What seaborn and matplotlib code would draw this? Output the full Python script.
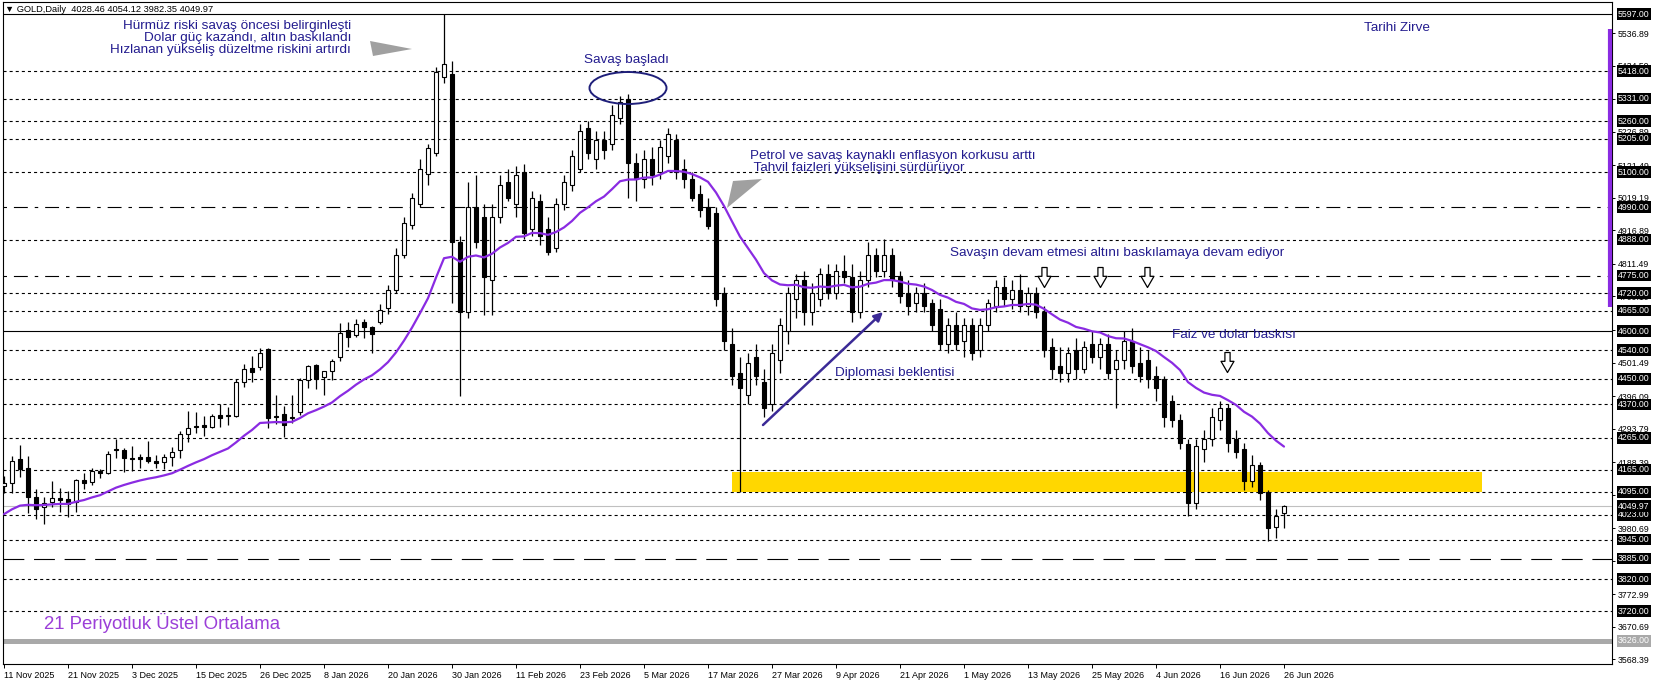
import matplotlib
matplotlib.use("Agg")
import matplotlib.pyplot as plt
import matplotlib.transforms as mtransforms
from matplotlib.patches import Ellipse, Polygon, Rectangle
from matplotlib.path import Path
import numpy as np
import pandas as pd
import seaborn as sns

# Daily candles, 11 Nov 2025 .. 26 Jun 2026
opens = [4113, 4123, 4198, 4170, 4079, 4047, 4063, 4076, 4073, 4063,
         4132, 4126, 4160, 4154, 4230, 4227, 4201, 4205, 4205, 4192,
         4189, 4205, 4226, 4277, 4302, 4305, 4299, 4337, 4333, 4333,
         4440, 4484, 4487, 4544, 4333, 4340, 4327, 4346, 4447, 4494,
         4456, 4475, 4519, 4604, 4588, 4629, 4613, 4629, 4673, 4730,
         4840, 4935, 5000, 5095, 5160, 5400, 5410, 4880, 4660, 4990,
         4960, 4760, 4960, 5070, 5000, 5100, 4920, 5010, 4920, 4860,
         5000, 5060, 5110, 5240, 5140, 5200, 5190, 5270, 5330, 5130,
         5080, 5140, 5100, 5150, 5200, 5110, 5080, 5030, 4990, 4970,
         4720, 4560, 4470, 4400, 4520, 4440, 4370, 4510, 4600, 4700,
         4760, 4660, 4700, 4780, 4720, 4790, 4770, 4660, 4760, 4840,
         4790, 4840, 4770, 4720, 4690, 4720, 4690, 4670, 4560, 4620,
         4570, 4620, 4540, 4620, 4680, 4740, 4700, 4730, 4680, 4720,
         4660, 4550, 4490, 4470, 4540, 4480, 4560, 4520, 4560, 4480,
         4510, 4570, 4500, 4510, 4460, 4450, 4380, 4320, 4245, 4060,
         4230, 4260, 4320, 4360, 4260, 4230, 4130, 4180, 4095, 3985,
         4028.46]
highs = [4145, 4208, 4242, 4208, 4104, 4079, 4129, 4107, 4098, 4135,
         4154, 4170, 4167, 4223, 4261, 4233, 4239, 4214, 4255, 4211,
         4214, 4236, 4286, 4349, 4346, 4333, 4340, 4371, 4362, 4450,
         4497, 4522, 4547, 4546, 4400, 4365, 4400, 4453, 4494, 4497,
         4475, 4513, 4626, 4629, 4638, 4638, 4616, 4685, 4745, 4860,
         4960, 5035, 5140, 5190, 5430, 5597, 5450, 4900, 5070, 5090,
         5000, 5000, 5090, 5110, 5120, 5125, 5040, 5030, 4960, 5020,
         5090, 5170, 5250, 5260, 5230, 5230, 5310, 5340, 5345, 5160,
         5170, 5180, 5200, 5240, 5220, 5140, 5100, 5060, 5020, 4990,
         4740, 4610, 4520, 4530, 4560, 4480, 4560, 4640, 4740, 4780,
         4790, 4750, 4800, 4810, 4810, 4840, 4810, 4790, 4880, 4860,
         4890, 4860, 4790, 4760, 4740, 4750, 4700, 4700, 4640, 4660,
         4640, 4640, 4640, 4700, 4760, 4770, 4760, 4780, 4740, 4740,
         4680, 4580, 4550, 4550, 4580, 4570, 4600, 4580, 4590, 4540,
         4600, 4610, 4550, 4540, 4490, 4460, 4400, 4340, 4260, 4260,
         4290, 4360, 4380, 4370, 4290, 4250, 4210, 4190, 4100, 4040,
         4054.12]
lows = [4092, 4092, 4142, 4028, 4009, 3994, 4047, 4031, 4016, 4031,
        4104, 4116, 4139, 4151, 4201, 4158, 4161, 4170, 4186, 4170,
        4167, 4177, 4201, 4252, 4280, 4271, 4296, 4299, 4305, 4330,
        4425, 4440, 4478, 4296, 4308, 4267, 4311, 4337, 4421, 4418,
        4400, 4447, 4506, 4550, 4582, 4579, 4531, 4623, 4655, 4720,
        4830, 4920, 4990, 5060, 5150, 5380, 4690, 4395, 4640, 4860,
        4650, 4650, 4940, 5010, 4960, 4890, 4900, 4870, 4840, 4850,
        4980, 5040, 5100, 5140, 5110, 5140, 5170, 5250, 5020, 5010,
        5050, 5060, 5080, 5130, 5080, 5050, 5010, 4960, 4920, 4680,
        4540, 4430, 4095, 4370, 4430, 4330, 4350, 4470, 4560, 4640,
        4620, 4620, 4680, 4700, 4700, 4750, 4630, 4640, 4740, 4770,
        4770, 4740, 4690, 4650, 4660, 4660, 4600, 4540, 4530, 4540,
        4520, 4510, 4520, 4600, 4660, 4680, 4670, 4660, 4650, 4640,
        4520, 4450, 4440, 4440, 4450, 4470, 4500, 4480, 4450, 4360,
        4480, 4470, 4440, 4420, 4380, 4300, 4300, 4230, 4020, 4040,
        4190, 4240, 4290, 4220, 4200, 4100, 4110, 4070, 3940, 3950,
        3982.35]
closes = [4123, 4192, 4167, 4079, 4041, 4060, 4076, 4070, 4057, 4132,
          4123, 4160, 4154, 4214, 4227, 4201, 4198, 4198, 4192, 4186,
          4205, 4220, 4277, 4296, 4299, 4299, 4333, 4327, 4337, 4440,
          4481, 4472, 4531, 4327, 4330, 4305, 4329, 4447, 4491, 4450,
          4475, 4506, 4594, 4582, 4623, 4613, 4591, 4667, 4730, 4840,
          4940, 5020, 5110, 5175, 5415, 5440, 4880, 4660, 4990, 4880,
          4770, 4960, 5060, 5020, 5090, 4910, 5020, 4900, 4850, 5000,
          5070, 5150, 5230, 5160, 5200, 5170, 5280, 5320, 5130, 5080,
          5140, 5090, 5180, 5220, 5100, 5080, 5020, 4980, 4930, 4700,
          4570, 4460, 4420, 4500, 4460, 4360, 4530, 4620, 4720, 4760,
          4660, 4720, 4780, 4720, 4790, 4770, 4660, 4760, 4840, 4790,
          4840, 4760, 4710, 4680, 4720, 4680, 4620, 4560, 4620, 4560,
          4620, 4530, 4620, 4690, 4740, 4700, 4730, 4680, 4720, 4660,
          4540, 4480, 4470, 4530, 4480, 4550, 4520, 4560, 4470, 4510,
          4570, 4490, 4460, 4450, 4420, 4330, 4320, 4250, 4060, 4240,
          4260, 4330, 4360, 4250, 4220, 4130, 4180, 4090, 3980, 4020,
          4049.97]
ema_seed = 4015

date_labels = ["11 Nov 2025", "21 Nov 2025", "3 Dec 2025", "15 Dec 2025",
               "26 Dec 2025", "8 Jan 2026", "20 Jan 2026", "30 Jan 2026",
               "11 Feb 2026", "23 Feb 2026", "5 Mar 2026", "17 Mar 2026",
               "27 Mar 2026", "9 Apr 2026", "21 Apr 2026", "1 May 2026",
               "13 May 2026", "25 May 2026", "4 Jun 2026", "16 Jun 2026",
               "26 Jun 2026"]
price_ticks = [3568.39, 3670.69, 3772.99, 3878.39, 3980.69, 4086.09,
               4188.39, 4293.79, 4396.09, 4501.49, 4603.79, 4709.19,
               4811.49, 4916.89, 5019.19, 5121.49, 5226.89, 5329.19,
               5434.59, 5536.89]
level_prices = [5597, 5418, 5331, 5260, 5205, 5100, 4990, 4888, 4775, 4720,
                4665, 4600, 4540, 4450, 4370, 4265, 4165, 4095, 4023, 3945,
                3885, 3820, 3720]
bid_price = 4049.97
base_price = 3626
zone_low, zone_high = 4095, 4158
header = "▼ GOLD,Daily  4028.46 4054.12 3982.35 4049.97"


# pixel -> data helpers for the hand placed drawing objects
def bx(px):
    return (px - 4) / 8


def py(px):
    return 5418 - (px - 71) * 3.144


sns.set_theme(style="white")
plt.rcParams["font.family"] = ["Liberation Sans", "DejaVu Sans"]
plt.rcParams["lines.scale_dashes"] = False

df = pd.DataFrame({"open": opens, "high": highs, "low": lows, "close": closes})
df["bar"] = np.arange(len(df))
ema = pd.concat([pd.Series([ema_seed]), df["close"]]).ewm(span=21, adjust=False).mean()
df["ema"] = ema.iloc[1:].to_numpy()

fig = plt.figure(figsize=(16.58, 6.85), dpi=100)
ax = fig.add_axes([3 / 1658, 21 / 685, 1609 / 1658, 662 / 685])
ax.set_facecolor("white")
ax.set_xlim(bx(3), bx(1612))
ax.set_ylim(py(664), py(2))

# level lines
dotted = (0, (2.2, 2.2))
styles = {5597: "-", 4600: "-", 4990: (0, (2.5, 5, 10, 5)),
          4775: (0, (2.5, 5, 10, 5)), 3885: (0, (15, 7))}
for p in level_prices:
    ax.axhline(p, color="black", lw=0.8, ls=styles.get(p, dotted), zorder=1)
ax.axhline(bid_price, color="#C0C0C0", lw=0.8, zorder=1)
ax.axhline(base_price, color="#A9A9A9", lw=3.6, zorder=1)

# support zone
ax.add_patch(Rectangle((bx(732), zone_low), bx(1482) - bx(732), zone_high - zone_low,
                       facecolor="#FFD700", edgecolor="none", zorder=2))

# candles
up = df["close"] >= df["open"]
body_lo = np.minimum(df["open"], df["close"])
body_h = np.maximum((df["close"] - df["open"]).abs(), 3)
ax.vlines(df["bar"], df["low"], df["high"], color="black", lw=0.9, zorder=3)
ax.bar(df["bar"], body_h, bottom=body_lo, width=0.62,
       color=np.where(up, "white", "black"), edgecolor="black", linewidth=0.8, zorder=4)

sns.lineplot(x=df["bar"], y=df["ema"], color="#8A2BE2", lw=1.6, ax=ax, zorder=5)
ax.set_xlabel("")
ax.set_ylabel("")

# axes
for s in ax.spines.values():
    s.set_color("black")
    s.set_linewidth(0.8)
ax.yaxis.tick_right()
ax.set_yticks(price_ticks)
ax.set_yticklabels([f"{v:.2f}" for v in price_ticks])
ax.tick_params(axis="y", direction="out", length=2.5, width=0.7, pad=1.5,
               labelsize=6.3, colors="black", right=True, left=False)
ax.set_xticks(range(0, len(df), 8))
ax.set_xticklabels(date_labels, ha="left")
ax.tick_params(axis="x", direction="out", length=3, width=0.7, pad=2,
               labelsize=6.5, colors="black", bottom=True)
ax.grid(False)

trans = mtransforms.blended_transform_factory(ax.transAxes, ax.transData)
box_x = 1 + 6 / 1609
for p in level_prices + [bid_price]:
    ax.text(box_x, p, f"{p:.2f}", transform=trans, ha="left", va="center",
            fontsize=6.3, color="white", zorder=20, clip_on=False,
            bbox=dict(boxstyle="square,pad=0.15", fc="black", ec="none"))
ax.text(box_x, base_price, f"{base_price:.2f}", transform=trans, ha="left",
        va="center", fontsize=6.3, color="white", zorder=20, clip_on=False,
        bbox=dict(boxstyle="square,pad=0.15", fc="#A9A9A9", ec="none"))
ax.plot([(1610 - 3) / 1609] * 2, [5550, 4675], transform=trans, color="#8A2BE2",
        lw=3, solid_capstyle="butt", clip_on=False, zorder=6)

# texts
navy = "#231C8F"
ax.text(bx(5), py(9), header, fontsize=6.7, color="black", va="center", ha="left", zorder=10)
note = ("Hürmüz riski savaş öncesi belirginleşti\n"
        "Dolar güç kazandı, altın baskılandı\n"
        "Hızlanan yükseliş düzeltme riskini artırdı")
ax.text(bx(351), py(38), note, fontsize=9.7, color=navy, ha="right", va="center",
        linespacing=1.05, zorder=10)
ax.text(bx(626), py(60), "Savaş başladı", fontsize=9.7, color=navy, ha="center", va="center", zorder=10)
ax.add_patch(Ellipse((bx(628), py(88)), 77 / 8, 32 * 3.144, fill=False,
                     edgecolor="#1F1F7A", lw=1.4, zorder=10))
ax.text(bx(750), py(162), "Petrol ve savaş kaynaklı enflasyon korkusu arttı\n Tahvil faizleri yükselişini sürdürüyor",
        fontsize=9.7, color=navy, ha="left", va="center", linespacing=1.05, zorder=10)
ax.text(bx(950), py(253), "Savaşın devam etmesi altını baskılamaya devam ediyor",
        fontsize=9.7, color=navy, ha="left", va="center", zorder=10)
ax.text(bx(835), py(373), "Diplomasi beklentisi", fontsize=9.7, color=navy,
        ha="left", va="center", zorder=10)
ax.text(bx(1172), py(335), "Faiz ve dolar baskısı", fontsize=9.7, color=navy,
        ha="left", va="center", zorder=10)
ax.text(bx(1364), py(28), "Tarihi Zirve", fontsize=9.7, color=navy,
        ha="left", va="center", zorder=10)
ax.text(bx(44), py(623), "21 Periyotluk Üstel Ortalama", fontsize=13.4,
        color="#9B3FD8", ha="left", va="center", zorder=10)

ax.annotate("", xy=(bx(883), py(312)), xytext=(bx(763), py(425)),
            arrowprops=dict(arrowstyle="-|>", color="#3B2A96", lw=1.8,
                            mutation_scale=13, shrinkA=0, shrinkB=0), zorder=10)

# grey wedges
ax.add_patch(Polygon([(bx(370), py(41)), (bx(412), py(49)), (bx(373), py(56))],
                     closed=True, facecolor="#A0A0A0", edgecolor="none", zorder=10))
ax.add_patch(Polygon([(bx(733), py(181)), (bx(762), py(179)), (bx(727), py(208))],
                     closed=True, facecolor="#A0A0A0", edgecolor="none", zorder=10))

# hollow down arrows
arrow = Path([(-0.22, 0.85), (0.22, 0.85), (0.22, 0.1), (0.55, 0.1), (0, -0.85),
              (-0.55, 0.1), (-0.22, 0.1), (-0.22, 0.85)], closed=True)
for cx, cy in [(1044, 277), (1100, 277), (1147, 277), (1227, 362)]:
    ax.plot(bx(cx), py(cy), marker=arrow, markersize=14.4, markerfacecolor="white",
            markeredgecolor="black", markeredgewidth=0.9, ls="none", zorder=11)

fig.savefig("out.png", dpi=100)
